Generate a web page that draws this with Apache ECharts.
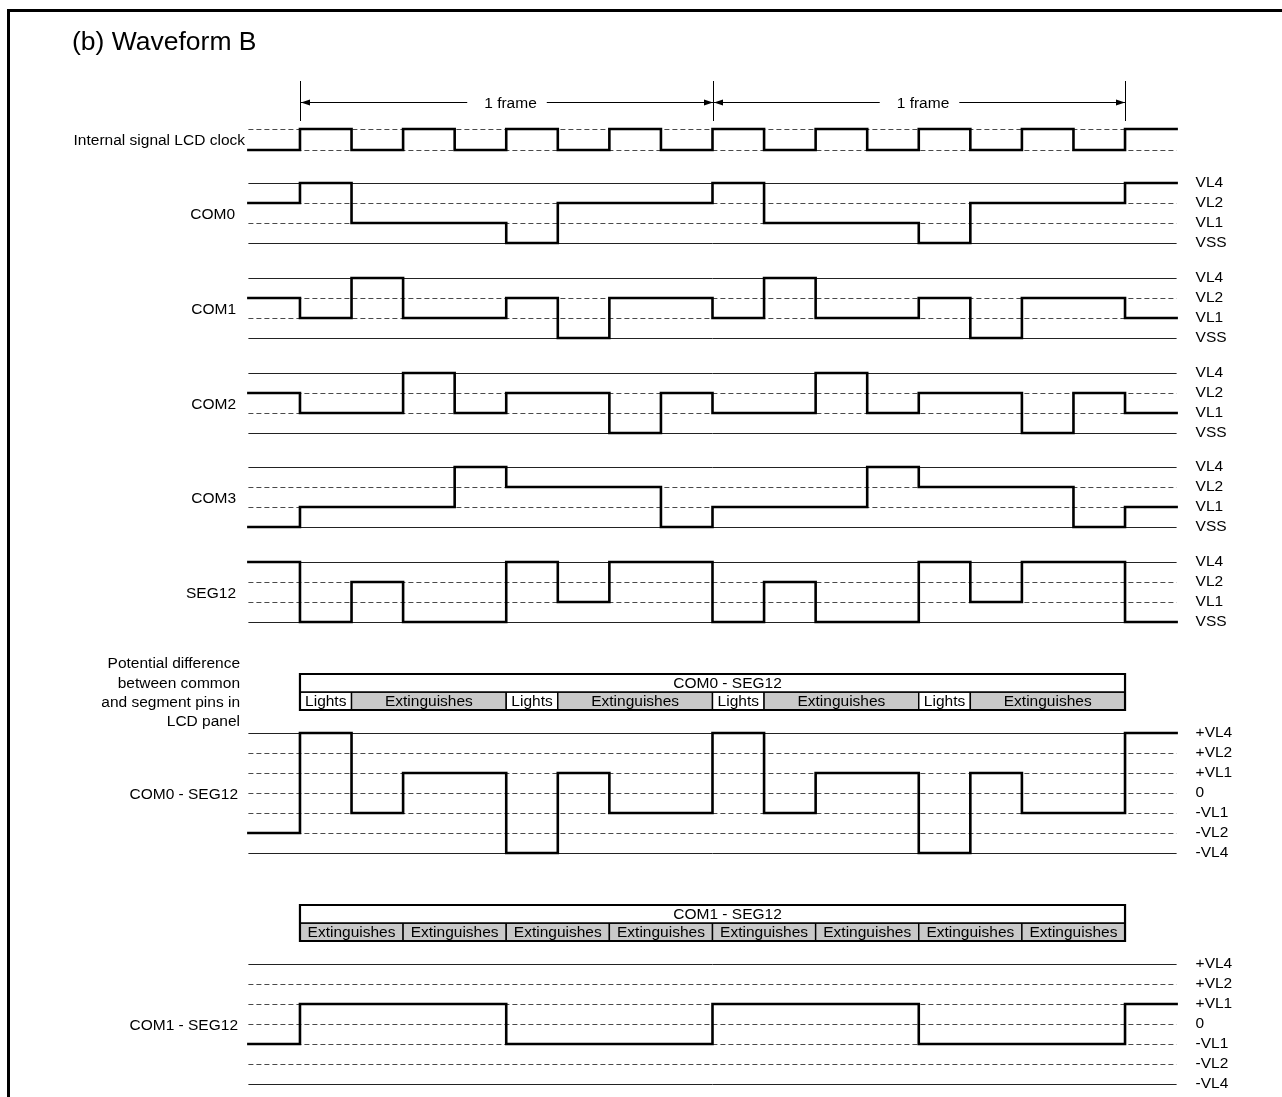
<!DOCTYPE html>
<html>
<head>
<meta charset="utf-8">
<script src="https://cdn.jsdelivr.net/npm/echarts@6/dist/echarts.min.js"></script>
<style>
html,body{margin:0;padding:0;background:#fff;}
#c{width:1282px;height:1097px;}
</style>
</head>
<body>
<div id="c"></div>
<script>
// ---------------- DATA ----------------
// time slots (half LCD-clock periods), slot start times
const slotStarts = [-1,0,1,2,3,4,5,6,7,8,9,10,11,12,13,14,15,16];
const slotLength = 1;
// level index per slot
const lcdClock = [0,1,0,1,0,1,0,1,0,1,0,1,0,1,0,1,0,1];
const com0  = [2,3,1,1,1,0,2,2,2,3,1,1,1,0,2,2,2,3];
const com1  = [2,1,3,1,1,2,0,2,2,1,3,1,1,2,0,2,2,1];
const com2  = [2,1,1,3,1,2,2,0,2,1,1,3,1,2,2,0,2,1];
const com3  = [0,1,1,1,3,2,2,2,0,1,1,1,3,2,2,2,0,1];
const seg12 = [3,0,2,0,0,3,1,3,3,0,2,0,0,3,1,3,3,0];
const com0MinusSeg12 = [1,6,2,4,4,0,4,2,2,6,2,4,4,0,4,2,2,6];
const com1MinusSeg12 = [2,4,4,4,4,2,2,2,2,4,4,4,4,2,2,2,2,4];

const comLevelNames  = ['VSS','VL1','VL2','VL4'];
const diffLevelNames = ['-VL4','-VL2','-VL1','0','+VL1','+VL2','+VL4'];

const frameEdges = [0, 8, 16];
const frameLabels = ['1 frame', '1 frame'];

const com0Seg12Title = 'COM0 - SEG12';
const com0Seg12CellEdges = [0,1,4,5,8,9,12,13,16];
const com0Seg12CellStates = ['Lights','Extinguishes','Lights','Extinguishes','Lights','Extinguishes','Lights','Extinguishes'];
const com1Seg12Title = 'COM1 - SEG12';
const com1Seg12CellEdges = [0,2,4,6,8,10,12,14,16];
const com1Seg12CellStates = ['Extinguishes','Extinguishes','Extinguishes','Extinguishes','Extinguishes','Extinguishes','Extinguishes','Extinguishes'];

const titleText = '(b) Waveform B';
const sideNote = 'Potential difference\nbetween common\nand segment pins in\nLCD panel';

// ---------------- STYLE / LAYOUT ----------------
const FONT = '"Liberation Sans", Arial, Helvetica, sans-serif';
const FS = 15.5;
const comRefs  = ['solid','dash','dash','solid'];
const diffRefs = ['solid','dash','dash','dash','dash','dash','solid'];
const clockRefs = ['dash','dash'];
const GRID_LEFT = 248.4, GRID_WIDTH = 928.2;
const X_MIN = -1, X_MAX = 17;

const rows = [
  {kind:'frame', top:81,  height:40,  max:1},
  {kind:'wave',  top:129, height:21,  max:1, wave:lcdClock, refs:clockRefs, label:'Internal signal LCD clock', labelRight:245},
  {kind:'wave',  top:183, height:60,  max:3, wave:com0,  refs:comRefs, names:comLevelNames, label:'COM0', labelRight:235},
  {kind:'wave',  top:278, height:60,  max:3, wave:com1,  refs:comRefs, names:comLevelNames, label:'COM1', labelRight:236},
  {kind:'wave',  top:373, height:60,  max:3, wave:com2,  refs:comRefs, names:comLevelNames, label:'COM2', labelRight:236},
  {kind:'wave',  top:467, height:60,  max:3, wave:com3,  refs:comRefs, names:comLevelNames, label:'COM3', labelRight:236},
  {kind:'wave',  top:562, height:60,  max:3, wave:seg12, refs:comRefs, names:comLevelNames, label:'SEG12', labelRight:236},
  {kind:'table', top:674, height:36,  max:2, title:com0Seg12Title, edges:com0Seg12CellEdges, states:com0Seg12CellStates},
  {kind:'wave',  top:733, height:120, max:6, wave:com0MinusSeg12, refs:diffRefs, names:diffLevelNames, label:'COM0 - SEG12', labelRight:238},
  {kind:'table', top:905, height:36,  max:2, title:com1Seg12Title, edges:com1Seg12CellEdges, states:com1Seg12CellStates},
  {kind:'wave',  top:964, height:120, max:6, wave:com1MinusSeg12, refs:diffRefs, names:diffLevelNames, label:'COM1 - SEG12', labelRight:238}
];

const grids = [], xAxes = [], yAxes = [], series = [], graphics = [];

function txt(text, x, y, align, size) {
  return {type:'text', x:x, y:y, silent:true,
    style:{text:text, fill:'#000', fontSize:size||FS, fontFamily:FONT, align:align||'left', verticalAlign:'middle'}};
}

rows.forEach((r, gi) => {
  grids.push({left:GRID_LEFT, width:GRID_WIDTH, top:r.top, height:r.height, outerBoundsMode:'none', containLabel:false});
  xAxes.push({type:'value', gridIndex:gi, min:X_MIN, max:X_MAX, show:false});
  const y = {type:'value', gridIndex:gi, min:0, max:r.max, interval:1, position:'right',
    axisLine:{show:false}, axisTick:{show:false}, splitLine:{show:false},
    axisLabel:{show:!!r.names, margin:19, color:'#000', fontSize:FS, fontFamily:FONT, align:'left',
      padding:[4,0,0,0],
      showMinLabel:true, showMaxLabel:true,
      formatter:(v)=> r.names ? (r.names[Math.round(v)] || '') : ''}};
  yAxes.push(y);

  if (r.kind === 'wave') {
    // reference lines
    series.push({type:'custom', xAxisIndex:gi, yAxisIndex:gi, z:1, silent:true, clip:false, animation:false,
      data: r.refs.map((s, lvl) => [lvl, s === 'dash' ? 1 : 0]),
      renderItem: function(params, api) {
        const lvl = api.value(0), dashed = api.value(1) === 1;
        const p1 = api.coord([X_MIN, lvl]), p2 = api.coord([X_MAX, lvl]);
        const yy = Math.round(p1[1]) + 0.5;
        return {type:'line', shape:{x1:p1[0], y1:yy, x2:p2[0], y2:yy},
          style:{stroke: dashed ? '#4a4a4a' : '#222', lineWidth:1, lineDash: dashed ? [5,3] : null}};
      }});
    // waveform
    const data = r.wave.map((v, i) => [slotStarts[i], v]);
    data.push([slotStarts[slotStarts.length - 1] + slotLength, r.wave[r.wave.length - 1]]);
    series.push({type:'line', xAxisIndex:gi, yAxisIndex:gi, step:'end', symbol:'none', showSymbol:false,
      clip:false, z:3, silent:true, animation:false, data:data,
      lineStyle:{color:'#000', width:2.6, join:'miter', cap:'square'}});
    // left label
    graphics.push(txt(r.label, r.labelRight, r.top + r.height / 2 + 1.5, 'right'));
  }

  if (r.kind === 'frame') {
    series.push({type:'custom', xAxisIndex:gi, yAxisIndex:gi, z:2, silent:true, clip:false, animation:false,
      data: frameLabels.map((l, i) => [frameEdges[i], frameEdges[i + 1]]),
      renderItem: function(params, api) {
        const pS = api.coord([api.value(0), 1]), pE = api.coord([api.value(1), 0]);
        const top = pS[1], bot = pE[1];
        const ay = Math.round((top + bot) / 2) + 1.5;
        const xs = Math.round(pS[0]) + 0.5, xe = Math.round(pE[0]) + 0.5;
        const mid = (xs + xe) / 2;
        const ah = 9, aw = 3;
        return {type:'group', children:[
          {type:'line', shape:{x1:xs, y1:top, x2:xs, y2:bot}, style:{stroke:'#000', lineWidth:1}},
          {type:'line', shape:{x1:xe, y1:top, x2:xe, y2:bot}, style:{stroke:'#000', lineWidth:1}},
          {type:'line', shape:{x1:xs, y1:ay, x2:xe, y2:ay}, style:{stroke:'#000', lineWidth:1}},
          {type:'polygon', shape:{points:[[xs + 0.5, ay], [xs + 0.5 + ah, ay - aw], [xs + 0.5 + ah, ay + aw]]}, style:{fill:'#000'}},
          {type:'polygon', shape:{points:[[xe - 0.5, ay], [xe - 0.5 - ah, ay - aw], [xe - 0.5 - ah, ay + aw]]}, style:{fill:'#000'}},
          {type:'text', x:mid, y:ay + 1, z2:10,
            style:{text:frameLabels[params.dataIndex], fill:'#000', fontSize:FS, fontFamily:FONT,
              align:'center', verticalAlign:'middle', backgroundColor:'#fff', padding:[2, 10, 2, 17]}}
        ]};
      }});
  }

  if (r.kind === 'table') {
    const states = r.states;
    // cells
    series.push({type:'custom', xAxisIndex:gi, yAxisIndex:gi, z:2, silent:true, clip:false, animation:false,
      data: states.map((s, i) => [r.edges[i], r.edges[i + 1]]),
      renderItem: function(params, api) {
        const p1 = api.coord([api.value(0), 1]), p2 = api.coord([api.value(1), 0]);
        const st = states[params.dataIndex];
        return {type:'group', children:[
          {type:'rect', shape:{x:p1[0], y:p1[1], width:p2[0] - p1[0], height:p2[1] - p1[1]},
            style:{fill: st === 'Lights' ? '#fff' : '#c9c9c9', stroke:'#000', lineWidth:1.4}},
          {type:'text', x:(p1[0] + p2[0]) / 2, y:(p1[1] + p2[1]) / 2 + 1,
            style:{text:st, fill:'#000', fontSize:FS, fontFamily:FONT, align:'center', verticalAlign:'middle'}}
        ]};
      }});
    // title row + outer border
    series.push({type:'custom', xAxisIndex:gi, yAxisIndex:gi, z:4, silent:true, clip:false, animation:false,
      data: [[r.edges[0], r.edges[r.edges.length - 1]]],
      renderItem: function(params, api) {
        const p1 = api.coord([api.value(0), 2]), p2 = api.coord([api.value(1), 0]);
        const pm = api.coord([api.value(0), 1]);
        return {type:'group', children:[
          {type:'rect', shape:{x:p1[0], y:p1[1], width:p2[0] - p1[0], height:pm[1] - p1[1]}, style:{fill:'#fff', stroke:null}},
          {type:'line', shape:{x1:p1[0], y1:pm[1], x2:p2[0], y2:pm[1]}, style:{stroke:'#000', lineWidth:1.4}},
          {type:'rect', shape:{x:p1[0], y:p1[1], width:p2[0] - p1[0], height:p2[1] - p1[1]}, style:{fill:null, stroke:'#000', lineWidth:2.2}},
          {type:'text', x:(p1[0] + p2[0]) / 2 + 15, y:(p1[1] + pm[1]) / 2 + 1,
            style:{text:r.title, fill:'#000', fontSize:FS, fontFamily:FONT, align:'center', verticalAlign:'middle'}}
        ]};
      }});
  }
});

// title, side note, border
graphics.push(txt(titleText, 72, 43, 'left', 26.5));
graphics.push({type:'text', x:240, y:693, silent:true,
  style:{text:sideNote, fill:'#000', fontSize:FS, fontFamily:FONT, align:'right', verticalAlign:'middle', lineHeight:19.4}});
graphics.push({type:'line', silent:true, shape:{x1:7, y1:10.5, x2:1282, y2:10.5}, style:{stroke:'#000', lineWidth:3}});
graphics.push({type:'line', silent:true, shape:{x1:8.5, y1:9, x2:8.5, y2:1097}, style:{stroke:'#000', lineWidth:3}});

const chart = echarts.init(document.getElementById('c'), null, {renderer:'canvas'});
chart.setOption({
  animation:false,
  backgroundColor:'#fff',
  grid:grids, xAxis:xAxes, yAxis:yAxes, series:series,
  graphic:{elements:graphics}
});
</script>
</body>
</html>
